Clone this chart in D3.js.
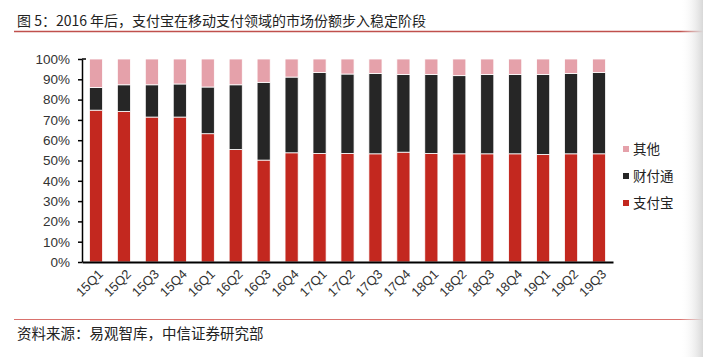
<!DOCTYPE html>
<html><head><meta charset="utf-8">
<script src="https://cdn.jsdelivr.net/npm/d3@7"></script>
<style>body{margin:0;background:#fff}svg{display:block}</style>
</head><body>
<svg id="c" width="703" height="357"></svg>
<script>
const categories = ["15Q1","15Q2","15Q3","15Q4","16Q1","16Q2","16Q3","16Q4","17Q1","17Q2","17Q3","17Q4","18Q1","18Q2","18Q3","18Q4","19Q1","19Q2","19Q3"];
const alipay  = [74.8,74.2,71.4,71.4,63.2,55.4,50.2,53.8,53.5,53.5,53.3,54.1,53.5,53.3,53.3,53.3,53.0,53.3,53.3];
const tenpay  = [11.2,13.1,15.9,16.3,23.0,31.9,38.3,37.3,39.8,39.1,39.6,38.3,38.9,38.5,39.1,39.1,39.4,39.6,40.0];
const others  = [14.0,12.7,12.7,12.3,13.8,12.7,11.5,8.9,6.7,7.4,7.1,7.6,7.6,8.2,7.6,7.6,7.6,7.1,6.7];
const seriesNames = ["支付宝","财付通","其他"];
const yTicks = [0,10,20,30,40,50,60,70,80,90,100];
const titleText = "图 5：2016 年后，支付宝在移动支付领域的市场份额步入稳定阶段";
const sourceText = "资料来源：易观智库，中信证券研究部";

const colors = {"支付宝":"#c3281f","财付通":"#262626","其他":"#e5a1aa"};
const font = "'Liberation Sans', Arial, sans-serif";
const cjk = "'Noto Sans CJK SC', sans-serif";

const svg = d3.select("#c");
const defs = svg.append("defs");
const g = defs.append("linearGradient").attr("id","shade").attr("x1","0").attr("x2","1");
g.append("stop").attr("offset","0").attr("stop-color","#fff").attr("stop-opacity",0);
g.append("stop").attr("offset","1").attr("stop-color","#d8d8d8").attr("stop-opacity",1);

// title
svg.append("text").attr("x",17).attr("y",26).attr("font-family",cjk).attr("font-size",14)
  .attr("fill","#222").text(titleText);
svg.append("line").attr("x1",14).attr("x2",703).attr("y1",31.5).attr("y2",31.5)
  .attr("stroke","#c0504d").attr("stroke-width",1.3);

const m = {left:82, right:613, top:59, bottom:262};
const x = d3.scaleBand().domain(categories).range([m.left,m.right]).paddingInner(0.53).paddingOuter(0.265);
const y = d3.scaleLinear().domain([0,100]).range([m.bottom,m.top]);

const rows = categories.map((c,i)=>({cat:c,"支付宝":alipay[i],"财付通":tenpay[i],"其他":others[i]}));
const stack = d3.stack().keys(seriesNames)(rows);

svg.append("g").selectAll("g").data(stack).join("g")
  .attr("fill",d=>colors[d.key])
  .selectAll("rect").data(d=>d).join("rect")
  .attr("x",d=>x(d.data.cat)).attr("width",x.bandwidth())
  .attr("y",d=>y(Math.min(100,d[1]))).attr("height",d=>y(d[0])-y(Math.min(100,d[1])))
  .attr("stroke","#fff").attr("stroke-width",0.8);

// y axis
const ya = svg.append("g").attr("transform",`translate(${m.left},0)`)
  .call(d3.axisLeft(y).tickValues(yTicks).tickSize(4).tickSizeOuter(0).tickFormat(d=>d+"%"));
ya.select(".domain").attr("stroke","#000").attr("stroke-width",1.5);
ya.selectAll(".tick line").attr("stroke","#000").attr("stroke-width",1.5);
ya.selectAll(".tick text").attr("font-family",font).attr("font-size",13.5).attr("fill","#333").attr("x",-12);
ya.append("line").attr("x1",0).attr("x2",4).attr("y1",m.top).attr("y2",m.top).attr("stroke","#000").attr("stroke-width",1.5);

// x axis
const xa = svg.append("g").attr("transform",`translate(0,${m.bottom})`)
  .call(d3.axisBottom(x).tickSize(0).tickSizeOuter(0));
xa.select(".domain").attr("stroke","#000").attr("stroke-width",2);
xa.selectAll(".tick text").attr("font-family",font).attr("font-size",13).attr("fill","#333")
  .attr("text-anchor","end").attr("dy",0).attr("y",0)
  .attr("transform","translate(8,13) rotate(-45)");

// legend
const legendOrder = ["其他","财付通","支付宝"];
const lg = svg.append("g").selectAll("g").data(legendOrder).join("g")
  .attr("transform",(d,i)=>`translate(623,${149+i*27})`);
lg.append("rect").attr("x",0).attr("y",-3).attr("width",6).attr("height",6).attr("fill",d=>colors[d]);
lg.append("text").attr("x",10).attr("y",0).attr("dy","0.35em").attr("font-family",cjk)
  .attr("font-size",13.5).attr("fill","#222").text(d=>d);

// footer
svg.append("line").attr("x1",14).attr("x2",703).attr("y1",319.5).attr("y2",319.5)
  .attr("stroke","#d9716d").attr("stroke-width",1);
svg.append("text").attr("x",17).attr("y",339).attr("font-family",cjk).attr("font-size",14.5)
  .attr("fill","#222").text(sourceText);

// page shade on right edge
svg.append("rect").attr("x",680).attr("y",0).attr("width",23).attr("height",357).attr("fill","url(#shade)");
</script>
</body></html>
